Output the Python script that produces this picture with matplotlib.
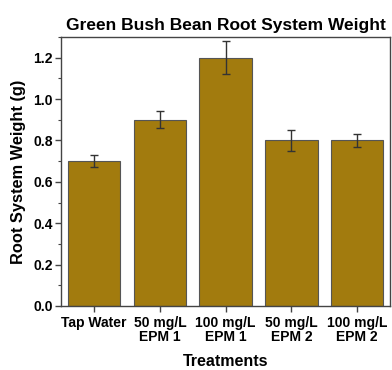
import matplotlib.pyplot as plt
import numpy as np
from matplotlib.ticker import MultipleLocator

plt.rcParams['font.family'] = ['Liberation Sans', 'DejaVu Sans']

# Data
treatments = ['Tap Water', '50 mg/L\nEPM 1', '100 mg/L\nEPM 1', '50 mg/L\nEPM 2', '100 mg/L\nEPM 2']
weights = [0.70, 0.90, 1.20, 0.80, 0.80]
errors = [0.03, 0.04, 0.08, 0.05, 0.03]

bar_color = '#a27b0e'
edge_color = '#555555'

fig = plt.figure(figsize=(3.92, 3.70), dpi=100)
ax = fig.add_axes([0.156, 0.173, 0.839, 0.727])

x = np.arange(len(treatments))
ax.bar(x, weights, width=0.8, color=bar_color, edgecolor=edge_color, linewidth=0.8,
       yerr=errors, capsize=3, error_kw=dict(ecolor='#333333', elinewidth=1.0, capthick=1.0))

ax.set_xlim(-0.5, 4.5)
ax.set_ylim(0, 1.3)
ax.yaxis.set_major_locator(MultipleLocator(0.2))
ax.yaxis.set_minor_locator(MultipleLocator(0.1))
ax.set_xticks(x)
ax.set_xticklabels(treatments, fontsize=10, fontweight='bold', linespacing=1.05)
for lbl in ax.get_yticklabels():
    lbl.set_fontsize(10)
    lbl.set_fontweight('bold')
ax.yaxis.set_major_formatter(plt.FuncFormatter(lambda v, p: f'{v:.1f}'))

ax.tick_params(axis='x', which='major', direction='out', length=4, width=1, color='#444444', pad=3)
ax.tick_params(axis='y', which='major', direction='out', length=4, width=1, color='#444444', pad=2)
ax.tick_params(axis='y', which='minor', direction='out', length=2, width=0.8, color='#444444')
for spine in ax.spines.values():
    spine.set_color('#444444')
    spine.set_linewidth(1.0)

ax.set_title('Green Bush Bean Root System Weight', fontsize=12.5, fontweight='bold', pad=5)
ax.set_ylabel('Root System Weight (g)', fontsize=11.8, fontweight='bold', labelpad=5)
ax.set_xlabel('Treatments', fontsize=11.5, fontweight='bold', labelpad=7)

plt.savefig('out.png', dpi=100)
